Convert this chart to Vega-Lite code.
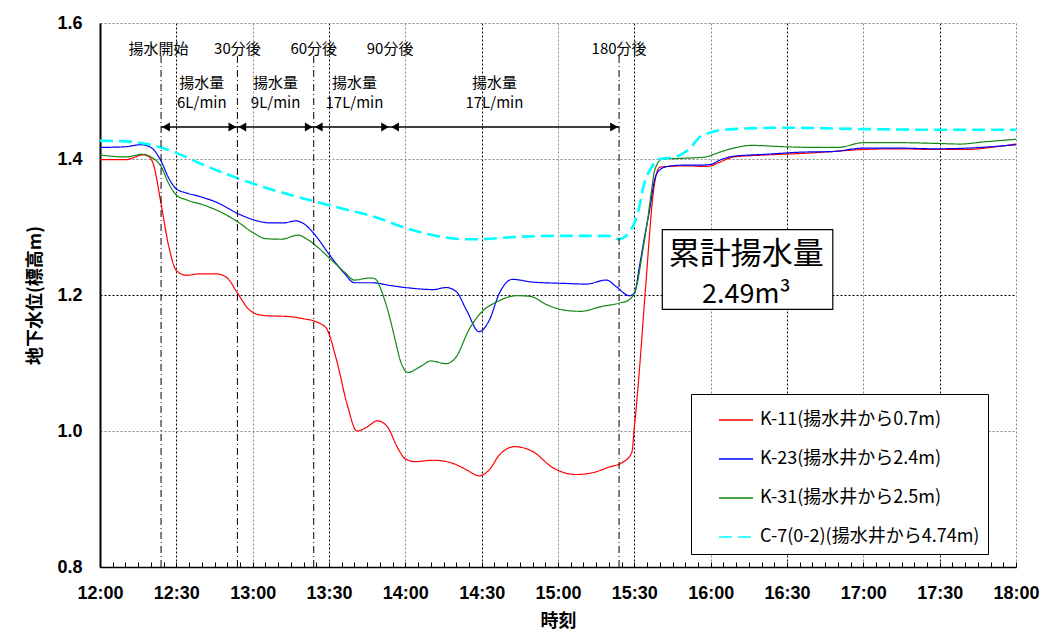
{
 "width": 916,
 "height": 544,
 "autosize": {"type": "none"},
 "padding": {"left": 100, "top": 23, "right": 30, "bottom": 68},
 "background": "white",
 "config": {"view": {"stroke": null}, "font": "Noto Sans CJK JP",
  "legend": {"orient": "none", "legendX": 591, "legendY": 371, "fillColor": "white", "strokeColor": "black", "padding": 8, "symbolOffset": 19, "symbolType": "stroke", "symbolSize": 1156, "symbolStrokeWidth": 1.5, "labelFontSize": 18, "labelFont": "Noto Sans CJK JP", "labelColor": "black", "rowPadding": 12, "labelOffset": 6, "labelLimit": 400}},
 "data": {"values": [
   {"series":"K-11(揚水井から0.7m)","t":"2000-01-01T12:00","level":1.399},{"series":"K-11(揚水井から0.7m)","t":"2000-01-01T12:10","level":1.399},{"series":"K-11(揚水井から0.7m)","t":"2000-01-01T12:17","level":1.406},{"series":"K-11(揚水井から0.7m)","t":"2000-01-01T12:19","level":1.404},{"series":"K-11(揚水井から0.7m)","t":"2000-01-01T12:21","level":1.392},{"series":"K-11(揚水井から0.7m)","t":"2000-01-01T12:24","level":1.334},{"series":"K-11(揚水井から0.7m)","t":"2000-01-01T12:27","level":1.272},{"series":"K-11(揚水井から0.7m)","t":"2000-01-01T12:30","level":1.236},{"series":"K-11(揚水井から0.7m)","t":"2000-01-01T12:34","level":1.229},{"series":"K-11(揚水井から0.7m)","t":"2000-01-01T12:39","level":1.231},{"series":"K-11(揚水井から0.7m)","t":"2000-01-01T12:46","level":1.231},{"series":"K-11(揚水井から0.7m)","t":"2000-01-01T12:50","level":1.225},{"series":"K-11(揚水井から0.7m)","t":"2000-01-01T12:54","level":1.203},{"series":"K-11(揚水井から0.7m)","t":"2000-01-01T12:59","level":1.177},{"series":"K-11(揚水井から0.7m)","t":"2000-01-01T13:04","level":1.170},{"series":"K-11(揚水井から0.7m)","t":"2000-01-01T13:15","level":1.168},{"series":"K-11(揚水井から0.7m)","t":"2000-01-01T13:20","level":1.165},{"series":"K-11(揚水井から0.7m)","t":"2000-01-01T13:24","level":1.162},{"series":"K-11(揚水井から0.7m)","t":"2000-01-01T13:27","level":1.157},{"series":"K-11(揚水井から0.7m)","t":"2000-01-01T13:29","level":1.151},{"series":"K-11(揚水井から0.7m)","t":"2000-01-01T13:33","level":1.104},{"series":"K-11(揚水井から0.7m)","t":"2000-01-01T13:37","level":1.041},{"series":"K-11(揚水井から0.7m)","t":"2000-01-01T13:41","level":1.000},{"series":"K-11(揚水井から0.7m)","t":"2000-01-01T13:45","level":1.006},{"series":"K-11(揚水井から0.7m)","t":"2000-01-01T13:49","level":1.015},{"series":"K-11(揚水井から0.7m)","t":"2000-01-01T13:53","level":1.006},{"series":"K-11(揚水井から0.7m)","t":"2000-01-01T13:57","level":0.975},{"series":"K-11(揚水井から0.7m)","t":"2000-01-01T14:00","level":0.959},{"series":"K-11(揚水井から0.7m)","t":"2000-01-01T14:04","level":0.955},{"series":"K-11(揚水井から0.7m)","t":"2000-01-01T14:11","level":0.957},{"series":"K-11(揚水井から0.7m)","t":"2000-01-01T14:19","level":0.952},{"series":"K-11(揚水井から0.7m)","t":"2000-01-01T14:24","level":0.943},{"series":"K-11(揚水井から0.7m)","t":"2000-01-01T14:29","level":0.934},{"series":"K-11(揚水井から0.7m)","t":"2000-01-01T14:33","level":0.943},{"series":"K-11(揚水井から0.7m)","t":"2000-01-01T14:37","level":0.965},{"series":"K-11(揚水井から0.7m)","t":"2000-01-01T14:43","level":0.977},{"series":"K-11(揚水井から0.7m)","t":"2000-01-01T14:50","level":0.970},{"series":"K-11(揚水井から0.7m)","t":"2000-01-01T14:58","level":0.946},{"series":"K-11(揚水井から0.7m)","t":"2000-01-01T15:07","level":0.936},{"series":"K-11(揚水井から0.7m)","t":"2000-01-01T15:14","level":0.939},{"series":"K-11(揚水井から0.7m)","t":"2000-01-01T15:20","level":0.947},{"series":"K-11(揚水井から0.7m)","t":"2000-01-01T15:25","level":0.953},{"series":"K-11(揚水井から0.7m)","t":"2000-01-01T15:29","level":0.968},{"series":"K-11(揚水井から0.7m)","t":"2000-01-01T15:30","level":1.005},{"series":"K-11(揚水井から0.7m)","t":"2000-01-01T15:32","level":1.09},{"series":"K-11(揚水井から0.7m)","t":"2000-01-01T15:34","level":1.19},{"series":"K-11(揚水井から0.7m)","t":"2000-01-01T15:35","level":1.24},{"series":"K-11(揚水井から0.7m)","t":"2000-01-01T15:36","level":1.29},{"series":"K-11(揚水井から0.7m)","t":"2000-01-01T15:37","level":1.335},{"series":"K-11(揚水井から0.7m)","t":"2000-01-01T15:38","level":1.365},{"series":"K-11(揚水井から0.7m)","t":"2000-01-01T15:39","level":1.382},{"series":"K-11(揚水井から0.7m)","t":"2000-01-01T15:40","level":1.388},{"series":"K-11(揚水井から0.7m)","t":"2000-01-01T15:43","level":1.389},{"series":"K-11(揚水井から0.7m)","t":"2000-01-01T15:51","level":1.390},{"series":"K-11(揚水井から0.7m)","t":"2000-01-01T15:57","level":1.389},{"series":"K-11(揚水井から0.7m)","t":"2000-01-01T16:00","level":1.390},{"series":"K-11(揚水井から0.7m)","t":"2000-01-01T16:04","level":1.396},{"series":"K-11(揚水井から0.7m)","t":"2000-01-01T16:09","level":1.403},{"series":"K-11(揚水井から0.7m)","t":"2000-01-01T16:22","level":1.406},{"series":"K-11(揚水井から0.7m)","t":"2000-01-01T16:35","level":1.408},{"series":"K-11(揚水井から0.7m)","t":"2000-01-01T16:48","level":1.411},{"series":"K-11(揚水井から0.7m)","t":"2000-01-01T17:00","level":1.414},{"series":"K-11(揚水井から0.7m)","t":"2000-01-01T17:14","level":1.415},{"series":"K-11(揚水井から0.7m)","t":"2000-01-01T17:28","level":1.414},{"series":"K-11(揚水井から0.7m)","t":"2000-01-01T17:41","level":1.414},{"series":"K-11(揚水井から0.7m)","t":"2000-01-01T17:50","level":1.417},{"series":"K-11(揚水井から0.7m)","t":"2000-01-01T18:00","level":1.422},
   {"series":"K-23(揚水井から2.4m)","t":"2000-01-01T12:00","level":1.417},{"series":"K-23(揚水井から2.4m)","t":"2000-01-01T12:10","level":1.418},{"series":"K-23(揚水井から2.4m)","t":"2000-01-01T12:16","level":1.421},{"series":"K-23(揚水井から2.4m)","t":"2000-01-01T12:20","level":1.417},{"series":"K-23(揚水井から2.4m)","t":"2000-01-01T12:24","level":1.397},{"series":"K-23(揚水井から2.4m)","t":"2000-01-01T12:27","level":1.372},{"series":"K-23(揚水井から2.4m)","t":"2000-01-01T12:30","level":1.356},{"series":"K-23(揚水井から2.4m)","t":"2000-01-01T12:34","level":1.350},{"series":"K-23(揚水井から2.4m)","t":"2000-01-01T12:39","level":1.345},{"series":"K-23(揚水井から2.4m)","t":"2000-01-01T12:46","level":1.336},{"series":"K-23(揚水井から2.4m)","t":"2000-01-01T12:54","level":1.320},{"series":"K-23(揚水井から2.4m)","t":"2000-01-01T13:00","level":1.311},{"series":"K-23(揚水井から2.4m)","t":"2000-01-01T13:07","level":1.306},{"series":"K-23(揚水井から2.4m)","t":"2000-01-01T13:12","level":1.306},{"series":"K-23(揚水井から2.4m)","t":"2000-01-01T13:17","level":1.309},{"series":"K-23(揚水井から2.4m)","t":"2000-01-01T13:20","level":1.305},{"series":"K-23(揚水井から2.4m)","t":"2000-01-01T13:25","level":1.286},{"series":"K-23(揚水井から2.4m)","t":"2000-01-01T13:30","level":1.260},{"series":"K-23(揚水井から2.4m)","t":"2000-01-01T13:36","level":1.232},{"series":"K-23(揚水井から2.4m)","t":"2000-01-01T13:40","level":1.218},{"series":"K-23(揚水井から2.4m)","t":"2000-01-01T13:47","level":1.218},{"series":"K-23(揚水井から2.4m)","t":"2000-01-01T13:54","level":1.214},{"series":"K-23(揚水井から2.4m)","t":"2000-01-01T14:00","level":1.211},{"series":"K-23(揚水井から2.4m)","t":"2000-01-01T14:11","level":1.208},{"series":"K-23(揚水井から2.4m)","t":"2000-01-01T14:16","level":1.211},{"series":"K-23(揚水井から2.4m)","t":"2000-01-01T14:20","level":1.205},{"series":"K-23(揚水井から2.4m)","t":"2000-01-01T14:24","level":1.178},{"series":"K-23(揚水井から2.4m)","t":"2000-01-01T14:29","level":1.146},{"series":"K-23(揚水井から2.4m)","t":"2000-01-01T14:33","level":1.163},{"series":"K-23(揚水井から2.4m)","t":"2000-01-01T14:37","level":1.203},{"series":"K-23(揚水井から2.4m)","t":"2000-01-01T14:42","level":1.223},{"series":"K-23(揚水井から2.4m)","t":"2000-01-01T14:50","level":1.219},{"series":"K-23(揚水井から2.4m)","t":"2000-01-01T15:03","level":1.217},{"series":"K-23(揚水井から2.4m)","t":"2000-01-01T15:11","level":1.216},{"series":"K-23(揚水井から2.4m)","t":"2000-01-01T15:19","level":1.222},{"series":"K-23(揚水井から2.4m)","t":"2000-01-01T15:23","level":1.212},{"series":"K-23(揚水井から2.4m)","t":"2000-01-01T15:28","level":1.199},{"series":"K-23(揚水井から2.4m)","t":"2000-01-01T15:30","level":1.202},{"series":"K-23(揚水井から2.4m)","t":"2000-01-01T15:32","level":1.242},{"series":"K-23(揚水井から2.4m)","t":"2000-01-01T15:34","level":1.285},{"series":"K-23(揚水井から2.4m)","t":"2000-01-01T15:36","level":1.325},{"series":"K-23(揚水井から2.4m)","t":"2000-01-01T15:38","level":1.370},{"series":"K-23(揚水井から2.4m)","t":"2000-01-01T15:40","level":1.384},{"series":"K-23(揚水井から2.4m)","t":"2000-01-01T15:43","level":1.389},{"series":"K-23(揚水井から2.4m)","t":"2000-01-01T15:50","level":1.391},{"series":"K-23(揚水井から2.4m)","t":"2000-01-01T15:56","level":1.391},{"series":"K-23(揚水井から2.4m)","t":"2000-01-01T16:00","level":1.392},{"series":"K-23(揚水井から2.4m)","t":"2000-01-01T16:04","level":1.399},{"series":"K-23(揚水井から2.4m)","t":"2000-01-01T16:09","level":1.404},{"series":"K-23(揚水井から2.4m)","t":"2000-01-01T16:22","level":1.407},{"series":"K-23(揚水井から2.4m)","t":"2000-01-01T16:35","level":1.410},{"series":"K-23(揚水井から2.4m)","t":"2000-01-01T16:48","level":1.411},{"series":"K-23(揚水井から2.4m)","t":"2000-01-01T17:00","level":1.416},{"series":"K-23(揚水井から2.4m)","t":"2000-01-01T17:14","level":1.416},{"series":"K-23(揚水井から2.4m)","t":"2000-01-01T17:28","level":1.415},{"series":"K-23(揚水井から2.4m)","t":"2000-01-01T17:41","level":1.416},{"series":"K-23(揚水井から2.4m)","t":"2000-01-01T18:00","level":1.421},
   {"series":"K-31(揚水井から2.5m)","t":"2000-01-01T12:00","level":1.406},{"series":"K-31(揚水井から2.5m)","t":"2000-01-01T12:10","level":1.403},{"series":"K-31(揚水井から2.5m)","t":"2000-01-01T12:17","level":1.407},{"series":"K-31(揚水井から2.5m)","t":"2000-01-01T12:20","level":1.403},{"series":"K-31(揚水井から2.5m)","t":"2000-01-01T12:24","level":1.389},{"series":"K-31(揚水井から2.5m)","t":"2000-01-01T12:27","level":1.364},{"series":"K-31(揚水井から2.5m)","t":"2000-01-01T12:30","level":1.347},{"series":"K-31(揚水井から2.5m)","t":"2000-01-01T12:34","level":1.340},{"series":"K-31(揚水井から2.5m)","t":"2000-01-01T12:41","level":1.332},{"series":"K-31(揚水井から2.5m)","t":"2000-01-01T12:48","level":1.321},{"series":"K-31(揚水井から2.5m)","t":"2000-01-01T12:54","level":1.308},{"series":"K-31(揚水井から2.5m)","t":"2000-01-01T13:00","level":1.292},{"series":"K-31(揚水井から2.5m)","t":"2000-01-01T13:05","level":1.283},{"series":"K-31(揚水井から2.5m)","t":"2000-01-01T13:11","level":1.282},{"series":"K-31(揚水井から2.5m)","t":"2000-01-01T13:18","level":1.288},{"series":"K-31(揚水井から2.5m)","t":"2000-01-01T13:21","level":1.283},{"series":"K-31(揚水井から2.5m)","t":"2000-01-01T13:25","level":1.272},{"series":"K-31(揚水井から2.5m)","t":"2000-01-01T13:30","level":1.255},{"series":"K-31(揚水井から2.5m)","t":"2000-01-01T13:36","level":1.234},{"series":"K-31(揚水井から2.5m)","t":"2000-01-01T13:40","level":1.222},{"series":"K-31(揚水井から2.5m)","t":"2000-01-01T13:46","level":1.225},{"series":"K-31(揚水井から2.5m)","t":"2000-01-01T13:48","level":1.224},{"series":"K-31(揚水井から2.5m)","t":"2000-01-01T13:51","level":1.202},{"series":"K-31(揚水井から2.5m)","t":"2000-01-01T13:54","level":1.165},{"series":"K-31(揚水井から2.5m)","t":"2000-01-01T13:56","level":1.134},{"series":"K-31(揚水井から2.5m)","t":"2000-01-01T13:58","level":1.104},{"series":"K-31(揚水井から2.5m)","t":"2000-01-01T14:01","level":1.086},{"series":"K-31(揚水井から2.5m)","t":"2000-01-01T14:06","level":1.095},{"series":"K-31(揚水井から2.5m)","t":"2000-01-01T14:10","level":1.103},{"series":"K-31(揚水井から2.5m)","t":"2000-01-01T14:16","level":1.099},{"series":"K-31(揚水井から2.5m)","t":"2000-01-01T14:20","level":1.109},{"series":"K-31(揚水井から2.5m)","t":"2000-01-01T14:25","level":1.149},{"series":"K-31(揚水井から2.5m)","t":"2000-01-01T14:30","level":1.175},{"series":"K-31(揚水井から2.5m)","t":"2000-01-01T14:36","level":1.190},{"series":"K-31(揚水井から2.5m)","t":"2000-01-01T14:44","level":1.199},{"series":"K-31(揚水井から2.5m)","t":"2000-01-01T14:49","level":1.198},{"series":"K-31(揚水井から2.5m)","t":"2000-01-01T14:56","level":1.185},{"series":"K-31(揚水井から2.5m)","t":"2000-01-01T15:02","level":1.178},{"series":"K-31(揚水井から2.5m)","t":"2000-01-01T15:09","level":1.176},{"series":"K-31(揚水井から2.5m)","t":"2000-01-01T15:17","level":1.183},{"series":"K-31(揚水井から2.5m)","t":"2000-01-01T15:24","level":1.188},{"series":"K-31(揚水井から2.5m)","t":"2000-01-01T15:28","level":1.193},{"series":"K-31(揚水井から2.5m)","t":"2000-01-01T15:31","level":1.215},{"series":"K-31(揚水井から2.5m)","t":"2000-01-01T15:33","level":1.258},{"series":"K-31(揚水井から2.5m)","t":"2000-01-01T15:35","level":1.305},{"series":"K-31(揚水井から2.5m)","t":"2000-01-01T15:37","level":1.360},{"series":"K-31(揚水井から2.5m)","t":"2000-01-01T15:38","level":1.384},{"series":"K-31(揚水井から2.5m)","t":"2000-01-01T15:41","level":1.400},{"series":"K-31(揚水井から2.5m)","t":"2000-01-01T15:49","level":1.401},{"series":"K-31(揚水井から2.5m)","t":"2000-01-01T15:58","level":1.403},{"series":"K-31(揚水井から2.5m)","t":"2000-01-01T16:02","level":1.408},{"series":"K-31(揚水井から2.5m)","t":"2000-01-01T16:09","level":1.416},{"series":"K-31(揚水井から2.5m)","t":"2000-01-01T16:16","level":1.420},{"series":"K-31(揚水井から2.5m)","t":"2000-01-01T16:29","level":1.418},{"series":"K-31(揚水井から2.5m)","t":"2000-01-01T16:42","level":1.417},{"series":"K-31(揚水井から2.5m)","t":"2000-01-01T16:50","level":1.417},{"series":"K-31(揚水井から2.5m)","t":"2000-01-01T17:00","level":1.424},{"series":"K-31(揚水井から2.5m)","t":"2000-01-01T17:14","level":1.424},{"series":"K-31(揚水井から2.5m)","t":"2000-01-01T17:28","level":1.423},{"series":"K-31(揚水井から2.5m)","t":"2000-01-01T17:38","level":1.422},{"series":"K-31(揚水井から2.5m)","t":"2000-01-01T17:47","level":1.425},{"series":"K-31(揚水井から2.5m)","t":"2000-01-01T18:00","level":1.429},
   {"series":"C-7(0-2)(揚水井から4.74m)","t":"2000-01-01T12:00","level":1.427},{"series":"C-7(0-2)(揚水井から4.74m)","t":"2000-01-01T12:13","level":1.425},{"series":"C-7(0-2)(揚水井から4.74m)","t":"2000-01-01T12:22","level":1.419},{"series":"C-7(0-2)(揚水井から4.74m)","t":"2000-01-01T12:30","level":1.409},{"series":"C-7(0-2)(揚水井から4.74m)","t":"2000-01-01T12:39","level":1.394},{"series":"C-7(0-2)(揚水井から4.74m)","t":"2000-01-01T12:51","level":1.376},{"series":"C-7(0-2)(揚水井から4.74m)","t":"2000-01-01T13:04","level":1.359},{"series":"C-7(0-2)(揚水井から4.74m)","t":"2000-01-01T13:17","level":1.345},{"series":"C-7(0-2)(揚水井から4.74m)","t":"2000-01-01T13:30","level":1.332},{"series":"C-7(0-2)(揚水井から4.74m)","t":"2000-01-01T13:51","level":1.311},{"series":"C-7(0-2)(揚水井から4.74m)","t":"2000-01-01T13:58","level":1.301},{"series":"C-7(0-2)(揚水井から4.74m)","t":"2000-01-01T14:11","level":1.288},{"series":"C-7(0-2)(揚水井から4.74m)","t":"2000-01-01T14:24","level":1.282},{"series":"C-7(0-2)(揚水井から4.74m)","t":"2000-01-01T14:29","level":1.282},{"series":"C-7(0-2)(揚水井から4.74m)","t":"2000-01-01T14:41","level":1.285},{"series":"C-7(0-2)(揚水井から4.74m)","t":"2000-01-01T15:00","level":1.287},{"series":"C-7(0-2)(揚水井から4.74m)","t":"2000-01-01T15:17","level":1.287},{"series":"C-7(0-2)(揚水井から4.74m)","t":"2000-01-01T15:20","level":1.287},{"series":"C-7(0-2)(揚水井から4.74m)","t":"2000-01-01T15:24","level":1.282},{"series":"C-7(0-2)(揚水井から4.74m)","t":"2000-01-01T15:27","level":1.288},{"series":"C-7(0-2)(揚水井から4.74m)","t":"2000-01-01T15:30","level":1.306},{"series":"C-7(0-2)(揚水井から4.74m)","t":"2000-01-01T15:32","level":1.330},{"series":"C-7(0-2)(揚水井から4.74m)","t":"2000-01-01T15:33","level":1.350},{"series":"C-7(0-2)(揚水井から4.74m)","t":"2000-01-01T15:37","level":1.389},{"series":"C-7(0-2)(揚水井から4.74m)","t":"2000-01-01T15:40","level":1.400},{"series":"C-7(0-2)(揚水井から4.74m)","t":"2000-01-01T15:46","level":1.403},{"series":"C-7(0-2)(揚水井から4.74m)","t":"2000-01-01T15:51","level":1.413},{"series":"C-7(0-2)(揚水井から4.74m)","t":"2000-01-01T15:56","level":1.433},{"series":"C-7(0-2)(揚水井から4.74m)","t":"2000-01-01T16:01","level":1.440},{"series":"C-7(0-2)(揚水井から4.74m)","t":"2000-01-01T16:09","level":1.444},{"series":"C-7(0-2)(揚水井から4.74m)","t":"2000-01-01T16:29","level":1.446},{"series":"C-7(0-2)(揚水井から4.74m)","t":"2000-01-01T17:01","level":1.444},{"series":"C-7(0-2)(揚水井から4.74m)","t":"2000-01-01T17:28","level":1.443},{"series":"C-7(0-2)(揚水井から4.74m)","t":"2000-01-01T18:00","level":1.443}
 ]},
 "layer": [
  {
   "transform": [{"filter": "datum.series != 'C-7(0-2)(揚水井から4.74m)'"}],
   "mark": {"type": "line", "interpolate": "monotone", "strokeWidth": 1.2},
   "encoding": {
    "x": {"field": "t", "type": "temporal",
     "scale": {"domain": ["2000-01-01T12:00", "2000-01-01T18:00"]},
     "axis": {"tickCount": 72, "labelExpr": "minutes(datum.value) % 30 == 0 ? timeFormat(datum.value, '%H:%M') : ''", "title": "時刻", "titleFont": "Noto Sans CJK JP", "titleFontSize": 18, "titleFontWeight": "bold", "titleColor": "black", "titlePadding": 10, "labelFont": "Liberation Sans", "labelFontSize": 18, "labelFontWeight": "bold", "labelColor": "black", "labelPadding": 22, "labelFlush": false, "labelOverlap": false, "domainColor": "black", "domainWidth": 1.5, "ticks": true, "tickSize": -5, "tickColor": "black", "grid": true, "gridOpacity": {"condition": {"test": "minutes(datum.value) % 30 == 0", "value": 1}, "value": 0}, "gridColor": {"condition": {"test": "minutes(datum.value) == 30", "value": "#000000"}, "value": "#888888"}, "gridDash": [2, 2]}},
    "y": {"field": "level", "type": "quantitative", "scale": {"domain": [0.8, 1.6]},
     "axis": {"title": "地下水位(標高m)", "values": [0.8, 1.0, 1.2, 1.4, 1.6], "format": ".1f", "labelFont": "Liberation Sans", "labelFontSize": 18, "labelFontWeight": "bold", "labelColor": "black", "labelPadding": 18, "labelFlush": false, "ticks": false, "domainColor": "black", "domainWidth": 2, "grid": true, "gridColor": {"condition": {"test": "datum.value == 1.2", "value": "#000000"}, "value": "#888888"}, "gridDash": [2, 2], "titleFont": "Noto Sans CJK JP", "titleFontSize": 18, "titleFontWeight": "bold", "titleColor": "black", "titlePadding": 12}},
    "color": {"field": "series", "type": "nominal", "title": null,
     "scale": {"domain": ["K-11(揚水井から0.7m)", "K-23(揚水井から2.4m)", "K-31(揚水井から2.5m)", "C-7(0-2)(揚水井から4.74m)"], "range": ["#ff0000", "#0000ff", "#118811", "#00ffff"]}},
    "strokeDash": {"field": "series", "type": "nominal", "title": null,
     "scale": {"domain": ["K-11(揚水井から0.7m)", "K-23(揚水井から2.4m)", "K-31(揚水井から2.5m)", "C-7(0-2)(揚水井から4.74m)"], "range": [[1, 0], [1, 0], [1, 0], [13, 6]]}}
   }
  },
  {
   "transform": [{"filter": "datum.series == 'C-7(0-2)(揚水井から4.74m)'"}],
   "mark": {"type": "line", "interpolate": "monotone", "strokeWidth": 2.6},
   "encoding": {
    "x": {"field": "t", "type": "temporal"},
    "y": {"field": "level", "type": "quantitative"},
    "color": {"field": "series", "type": "nominal", "title": null},
    "strokeDash": {"field": "series", "type": "nominal", "title": null}
   }
  },
  {
   "data": {"values": [{"t":"2000-01-01T12:24"},{"t":"2000-01-01T12:54"},{"t":"2000-01-01T13:24"},{"t":"2000-01-01T15:24"}]},
   "mark": {"type": "rule", "color": "black", "strokeWidth": 1, "strokeDash": [7, 3, 1, 3]},
   "encoding": {
    "x": {"field": "t", "type": "temporal"},
    "y": {"datum": 0.8, "type": "quantitative"},
    "y2": {"datum": 1.555}
   }
  },
  {
   "data": {"values": [{"t":"2000-01-01T12:23","label":"揚水開始"},{"t":"2000-01-01T12:54","label":"30分後"},{"t":"2000-01-01T13:24","label":"60分後"},{"t":"2000-01-01T13:54","label":"90分後"},{"t":"2000-01-01T15:24","label":"180分後"}]},
   "mark": {"type": "text", "fontSize": 15, "color": "black", "font": "Noto Sans CJK JP"},
   "encoding": {
    "x": {"field": "t", "type": "temporal"},
    "y": {"datum": 1.562, "type": "quantitative"},
    "text": {"field": "label"}
   }
  },
  {
   "data": {"values": [{"mid":"2000-01-01T12:40","rate":"6L/min"},{"mid":"2000-01-01T13:09","rate":"9L/min"},{"mid":"2000-01-01T13:40","rate":"17L/min"},{"mid":"2000-01-01T14:35","rate":"17L/min"}]},
   "mark": {"type": "text", "fontSize": 15, "color": "black", "font": "Noto Sans CJK JP"},
   "encoding": {"x": {"field": "mid", "type": "temporal"}, "y": {"datum": 1.512, "type": "quantitative"}, "text": {"value": "揚水量"}}
  },
  {
   "data": {"values": [{"mid":"2000-01-01T12:40","rate":"6L/min"},{"mid":"2000-01-01T13:09","rate":"9L/min"},{"mid":"2000-01-01T13:40","rate":"17L/min"},{"mid":"2000-01-01T14:35","rate":"17L/min"}]},
   "mark": {"type": "text", "fontSize": 15, "color": "black", "font": "Noto Sans CJK JP"},
   "encoding": {"x": {"field": "mid", "type": "temporal"}, "y": {"datum": 1.482, "type": "quantitative"}, "text": {"field": "rate"}}
  },
  {
   "data": {"values": [{"start":"2000-01-01T12:24","end":"2000-01-01T12:54"},{"start":"2000-01-01T12:54","end":"2000-01-01T13:24"},{"start":"2000-01-01T13:24","end":"2000-01-01T13:54"},{"start":"2000-01-01T13:54","end":"2000-01-01T15:24"}]},
   "mark": {"type": "rule", "color": "black", "strokeWidth": 1.5},
   "encoding": {"x": {"field": "start", "type": "temporal"}, "x2": {"field": "end"}, "y": {"datum": 1.447, "type": "quantitative"}}
  },
  {
   "data": {"values": [{"start":"2000-01-01T12:24"},{"start":"2000-01-01T12:54"},{"start":"2000-01-01T13:24"},{"start":"2000-01-01T13:54"}]},
   "mark": {"type": "point", "shape": "triangle-left", "filled": true, "color": "black", "size": 80, "opacity": 1, "xOffset": 5},
   "encoding": {"x": {"field": "start", "type": "temporal"}, "y": {"datum": 1.447, "type": "quantitative"}}
  },
  {
   "data": {"values": [{"end":"2000-01-01T12:54"},{"end":"2000-01-01T13:24"},{"end":"2000-01-01T13:54"},{"end":"2000-01-01T15:24"}]},
   "mark": {"type": "point", "shape": "triangle-right", "filled": true, "color": "black", "size": 80, "opacity": 1, "xOffset": -5},
   "encoding": {"x": {"field": "end", "type": "temporal"}, "y": {"datum": 1.447, "type": "quantitative"}}
  },
  {
   "data": {"values": [{"left":"2000-01-01T15:41","right":"2000-01-01T16:48"}]},
   "mark": {"type": "rect", "fill": "white", "stroke": "black", "strokeWidth": 1.2},
   "encoding": {"x": {"field": "left", "type": "temporal"}, "x2": {"field": "right"}, "y": {"datum": 1.296, "type": "quantitative"}, "y2": {"datum": 1.179}}
  },
  {
   "data": {"values": [{"t":"2000-01-01T16:14","line1":"累計揚水量"}]},
   "mark": {"type": "text", "fontSize": 31, "color": "black", "font": "Noto Sans CJK JP"},
   "encoding": {"x": {"field": "t", "type": "temporal"}, "y": {"datum": 1.259, "type": "quantitative"}, "text": {"field": "line1"}}
  },
  {
   "data": {"values": [{"t":"2000-01-01T16:14","line2":"2.49m³"}]},
   "mark": {"type": "text", "fontSize": 27, "color": "black", "font": "Noto Sans CJK JP"},
   "encoding": {"x": {"field": "t", "type": "temporal"}, "y": {"datum": 1.200, "type": "quantitative"}, "text": {"field": "line2"}}
  }
 ]
}
